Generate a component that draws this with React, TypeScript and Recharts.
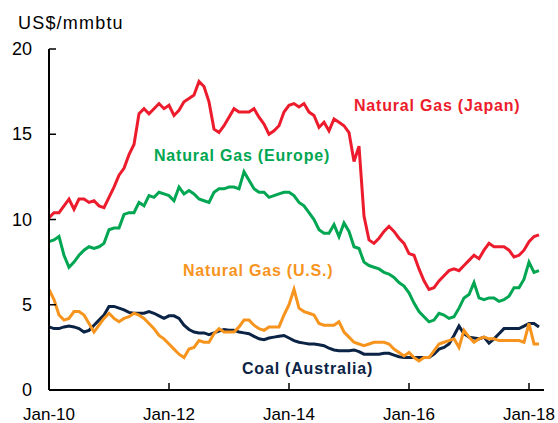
import { LineChart, Line, XAxis, YAxis, Customized } from 'recharts'

// monthly, Jan-10 .. Mar-18 (US$/mmbtu)
const japan = [
  10.1, 10.4, 10.4, 10.8, 11.2, 10.6, 11.2, 11.2, 11.0, 11.1, 10.8, 10.7,
  11.3, 11.9, 12.6, 13.0, 13.8, 14.4, 16.2, 16.5, 16.2, 16.5, 16.8, 16.5,
  16.7, 16.1, 16.4, 16.9, 17.1, 17.3, 18.1, 17.8, 16.9, 15.3, 15.1, 15.5,
  16.0, 16.5, 16.3, 16.3, 16.3, 16.5, 16.0, 15.6, 15.0, 15.2, 15.5, 16.3,
  16.7, 16.8, 16.6, 16.8, 16.3, 16.1, 15.4, 15.7, 15.2, 15.9, 15.7, 15.5,
  15.1, 13.4, 14.3, 10.2, 8.8, 8.6, 8.9, 9.3, 9.6, 9.3, 8.9, 8.6,
  8.0, 7.9, 7.1, 6.4, 5.9, 6.0, 6.4, 6.7, 7.0, 7.1, 7.0, 7.3,
  7.6, 7.9, 7.7, 8.2, 8.6, 8.4, 8.4, 8.4, 8.2, 7.8, 7.9, 8.2,
  8.7, 9.0, 9.1,
]
const europe = [
  8.7, 8.8, 9.0, 7.9, 7.2, 7.5, 7.9, 8.2, 8.4, 8.3, 8.4, 8.6,
  9.4, 9.5, 9.5, 10.3, 10.4, 10.4, 11.0, 10.8, 11.4, 11.3, 11.6, 11.5,
  11.4, 11.1, 11.9, 11.5, 11.7, 11.5, 11.2, 11.1, 11.0, 11.6, 11.8, 11.8,
  11.9, 11.9, 11.8, 12.8, 12.3, 11.8, 11.6, 11.6, 11.3, 11.4, 11.5, 11.6,
  11.6, 11.4, 11.0, 10.8, 10.4, 10.0, 9.4, 9.2, 9.2, 9.7, 9.0, 9.8,
  9.3, 8.4, 8.3, 7.5, 7.3, 7.2, 7.1, 6.9, 6.8, 6.6, 6.3, 6.1,
  5.7, 5.1, 4.6, 4.3, 4.0, 4.1, 4.5, 4.4, 4.2, 4.3, 4.8, 5.4,
  5.6, 6.3, 5.4, 5.3, 5.4, 5.4, 5.2, 5.3, 5.5, 6.0, 6.0, 6.5,
  7.5, 6.9, 7.0,
]
const us = [
  5.9, 5.3, 4.4, 4.1, 4.2, 4.6, 4.6, 4.4, 3.9, 3.4, 3.8, 4.2,
  4.5, 4.2, 4.0, 4.2, 4.3, 4.5, 4.4, 4.2, 3.9, 3.6, 3.2, 3.0,
  2.7, 2.4, 2.1, 1.9, 2.4, 2.5, 2.9, 2.8, 2.8, 3.3, 3.6, 3.4,
  3.4, 3.4, 3.7, 4.1, 4.1, 3.8, 3.6, 3.5, 3.7, 3.7, 3.7, 4.4,
  5.0, 5.9, 4.8, 4.6, 4.5, 4.4, 3.9, 3.8, 3.8, 3.8, 4.0, 3.4,
  3.1, 2.8, 2.7, 2.6, 2.7, 2.8, 2.8, 2.8, 2.7, 2.4, 2.2, 2.0,
  2.2, 1.9, 1.7, 1.9, 1.9, 2.3, 2.7, 2.8, 2.9, 3.0, 2.5, 3.5,
  3.1, 2.8, 3.0, 3.1, 3.0, 3.0, 2.9, 2.9, 2.9, 2.9, 2.9, 2.8,
  3.9, 2.7, 2.7,
]
const coal = [
  3.7, 3.6, 3.6, 3.7, 3.75, 3.7, 3.6, 3.4, 3.5, 3.8, 4.1, 4.4,
  4.9, 4.9, 4.8, 4.7, 4.55, 4.5, 4.5, 4.5, 4.6, 4.5, 4.35, 4.2,
  4.35, 4.35, 4.2, 3.8, 3.55, 3.4, 3.35, 3.35, 3.25, 3.35, 3.45, 3.55,
  3.5, 3.5, 3.4, 3.35, 3.3, 3.15, 3.0, 2.95, 3.05, 3.1, 3.15, 3.2,
  3.05, 2.9, 2.8, 2.75, 2.7, 2.7, 2.65, 2.6, 2.45, 2.35, 2.3, 2.3,
  2.3, 2.35, 2.25, 2.1, 2.1, 2.1, 2.1, 2.15, 2.15, 2.05, 1.95, 1.9,
  1.9, 1.9, 1.9, 1.9, 1.9, 2.1, 2.4, 2.5, 2.7, 3.2, 3.75, 3.3,
  3.1, 3.05, 3.0, 3.1, 2.75, 3.0, 3.3, 3.6, 3.6, 3.6, 3.6, 3.75,
  3.9, 3.9, 3.7,
]

const xTicks = [0, 24, 48, 72, 96]
const xLabels = ['Jan-10', 'Jan-12', 'Jan-14', 'Jan-16', 'Jan-18']
const yTicks = [0, 5, 10, 15, 20]

const data = japan.map((v, i) => ({
  i,
  japan: v,
  europe: europe[i],
  us: us[i],
  coal: coal[i],
}))

const FONT = '"Liberation Sans", Arial, sans-serif'
const RED = '#EC1C2D'
const GREEN = '#00A651'
const ORANGE = '#F7941D'
const NAVY = '#0B2344'

function XTick({ x, y, payload }: any) {
  const idx = xTicks.indexOf(payload.value)
  return (
    <g>
      <line x1={x} y1={y} x2={x} y2={y - 7} stroke="#000" strokeWidth={1.5} />
      <text x={x} y={y + 30} textAnchor="middle" fontSize={17} fill="#000" fontFamily={FONT}>
        {xLabels[idx]}
      </text>
    </g>
  )
}

function YTick({ x, y, payload }: any) {
  return (
    <g>
      <line x1={x} y1={y} x2={x + 7} y2={y} stroke="#000" strokeWidth={1.5} />
      <text x={x - 17} y={y + 6} textAnchor="end" fontSize={18} fill="#000" fontFamily={FONT}>
        {payload.value}
      </text>
    </g>
  )
}

function Labels() {
  const s = { fontFamily: FONT, fontSize: 16, fontWeight: 700, letterSpacing: 0.8 }
  return (
    <g>
      <text x={18} y={29} fontSize={18} fontFamily={FONT} letterSpacing={1.2} fill="#000">
        US$/mmbtu
      </text>
      <text x={354} y={111} fill={RED} style={s}>Natural Gas (Japan)</text>
      <text x={154} y={161} fill={GREEN} style={s}>Natural Gas (Europe)</text>
      <text x={183} y={276} fill={ORANGE} style={s}>Natural Gas (U.S.)</text>
      <text x={242} y={374} fill={NAVY} style={s}>Coal (Australia)</text>
    </g>
  )
}

export default function App() {
  return (
    <div style={{ position: 'absolute', left: 0, top: 0, background: '#fff' }}>
      <LineChart
        width={558}
        height={423}
        data={data}
        margin={{ top: 49, right: 14, left: 0, bottom: 0 }}
      >
        <XAxis
          dataKey="i"
          type="number"
          domain={[0, 99]}
          ticks={xTicks}
          tick={<XTick />}
          tickLine={false}
          tickSize={0}
          tickMargin={0}
          axisLine={{ stroke: '#000', strokeWidth: 2 }}
          height={33}
        />
        <YAxis
          type="number"
          domain={[0, 20]}
          ticks={yTicks}
          tick={<YTick />}
          tickLine={false}
          tickSize={0}
          tickMargin={0}
          axisLine={{ stroke: '#000', strokeWidth: 2 }}
          width={49}
        />
        <Line dataKey="coal" stroke={NAVY} strokeWidth={3} dot={false} isAnimationActive={false} />
        <Line dataKey="us" stroke={ORANGE} strokeWidth={3} dot={false} isAnimationActive={false} />
        <Line dataKey="europe" stroke={GREEN} strokeWidth={3} dot={false} isAnimationActive={false} />
        <Line dataKey="japan" stroke={RED} strokeWidth={3} dot={false} isAnimationActive={false} />
        <Customized component={Labels} />
      </LineChart>
    </div>
  )
}
